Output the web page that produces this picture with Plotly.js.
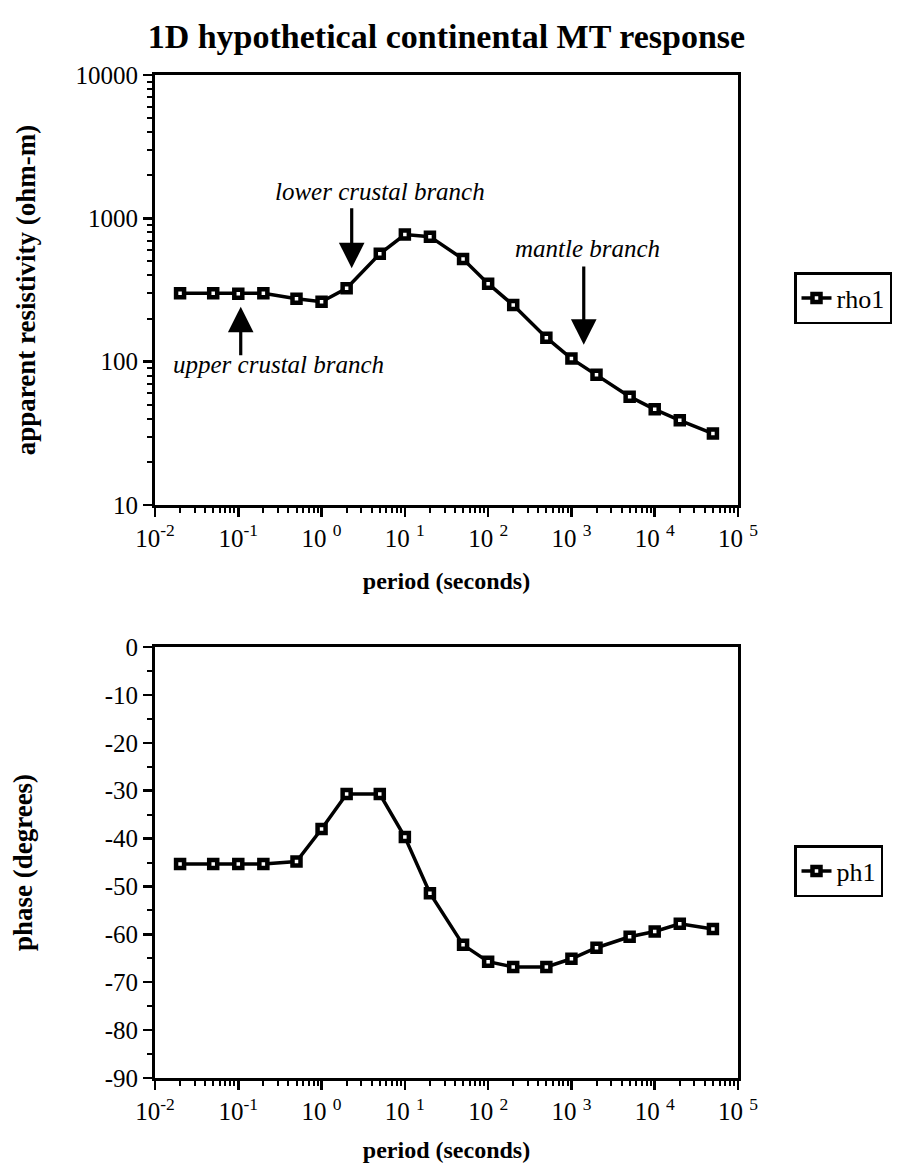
<!DOCTYPE html>
<html>
<head>
<meta charset="utf-8">
<script src="https://cdn.plot.ly/plotly-3.0.1.min.js"></script>
<style>html,body{margin:0;padding:0;background:#fff;}#chart{width:912px;height:1167px;}</style>
</head>
<body>
<div id="chart"></div>
<script>
// ---- data ----
const period = [0.02, 0.05, 0.1, 0.2, 0.5, 1, 2, 5, 10, 20, 50, 100, 200, 500, 1000, 2000, 5000, 10000, 20000, 50000];
const rho1 = [300, 300, 298, 300, 275, 262, 325, 565, 770, 745, 520, 350, 248, 147, 105, 81, 57, 46.5, 39, 31.5];
const ph1 = [-45.3, -45.3, -45.3, -45.3, -44.8, -38, -30.7, -30.7, -39.7, -51.4, -62.2, -65.7, -66.8, -66.8, -65.1, -62.8, -60.5, -59.4, -57.8, -58.9];

const xTickVals = [0.01, 0.1, 1, 10, 100, 1000, 10000, 100000];
const xTickText = ['10<sup>-2</sup>', '10<sup>-1</sup>', '10 <sup>0</sup>', '10 <sup>1</sup>', '10 <sup>2</sup>', '10 <sup>3</sup>', '10 <sup>4</sup>', '10 <sup>5</sup>'];
const rhoTickVals = [10, 100, 1000, 10000];
const rhoTickText = ['10', '100', '1000', '10000'];
const phTickVals = [0, -10, -20, -30, -40, -50, -60, -70, -80, -90];
const phTickText = ['0', '-10', '-20', '-30', '-40', '-50', '-60', '-70', '-80', '-90'];

// annotation labels (period, rho) and arrows (period, tail rho, tip rho)
const noteText = ['lower crustal branch', 'mantle branch', 'upper crustal branch'];
const notePeriod = [5, 1545, 0.305];
const noteRho = [1550, 618, 95];
const arrowPeriod = [2.3, 1406, 0.107];
const arrowTailRho = [1206, 472, 108];
const arrowTipRho = [448, 131, 242];

// ---- helpers ----
function minorLog(lo, hi) {
  const v = [];
  for (let e = lo; e < hi; e++) for (let m = 2; m <= 9; m++) v.push(m * Math.pow(10, e));
  return v;
}
const L = Math.log10;
const serif = 'Liberation Serif, Times New Roman, serif';

const markerStyle = {symbol: 'square', size: 8, color: 'white', line: {color: 'black', width: 4.5}};
const lineStyle = {color: 'black', width: 3.5};

const traces = [
  {x: period, y: rho1, name: 'rho1', mode: 'lines+markers', xaxis: 'x', yaxis: 'y', legend: 'legend',
   line: lineStyle, marker: markerStyle},
  {x: period, y: ph1, name: 'ph1', mode: 'lines+markers', xaxis: 'x2', yaxis: 'y2', legend: 'legend2',
   line: lineStyle, marker: markerStyle}
];

const tickFont = {family: serif, size: 25, color: 'black'};
const xTitleFont = {family: serif, size: 24, color: 'black', weight: 'bold'};
const yTitleFont = {family: serif, size: 27, color: 'black', weight: 'bold'};

function xAxis(anchor, standoff) {
  return {
    type: 'log', range: [-2, 5], anchor: anchor,
    tickmode: 'array', tickvals: xTickVals, ticktext: xTickText,
    ticks: 'outside', ticklen: 9, tickwidth: 2.5, tickcolor: 'black',
    minor: {tickmode: 'array', tickvals: minorLog(-2, 5), ticks: 'outside', ticklen: 5, tickwidth: 2, tickcolor: 'black'},
    showline: true, linecolor: 'black', linewidth: 3, mirror: true,
    showgrid: false, zeroline: false, tickfont: tickFont,
    title: {text: '<b>period (seconds)</b>', font: xTitleFont, standoff: standoff}
  };
}

const annotations = [];
for (let i = 0; i < noteText.length; i++) {
  annotations.push({
    xref: 'x', yref: 'y', x: L(notePeriod[i]), y: L(noteRho[i]),
    text: '<i>' + noteText[i] + '</i>', showarrow: false,
    font: {family: serif, size: 25, color: 'black'}
  });
  annotations.push({
    xref: 'x', yref: 'y', axref: 'x', ayref: 'y',
    x: L(arrowPeriod[i]), y: L(arrowTipRho[i]),
    ax: L(arrowPeriod[i]), ay: L(arrowTailRho[i]),
    text: '', showarrow: true, arrowhead: 2, arrowsize: 1.6, arrowwidth: 3.2, arrowcolor: 'black', standoff: 0
  });
}

const legendCommon = {xanchor: 'left', yanchor: 'top', bordercolor: 'black', borderwidth: 2.5, bgcolor: 'white',
                      font: {family: serif, size: 26, color: 'black'}};

const layout = {
  width: 912, height: 1167,
  margin: {l: 155, r: 174, t: 75, b: 89},
  paper_bgcolor: 'white', plot_bgcolor: 'white',
  showlegend: true,
  title: {text: '<b>1D hypothetical continental MT response</b>', font: {family: serif, size: 34, color: 'black'},
          x: 0.4895, xanchor: 'center', y: 1 - 36 / 1167, yanchor: 'middle'},
  xaxis: Object.assign(xAxis('y', 22), {domain: [0, 1]}),
  xaxis2: Object.assign(xAxis('y2', 18), {domain: [0, 1]}),
  yaxis: {
    type: 'log', range: [1, 4], domain: [0.5713, 1], anchor: 'x',
    tickmode: 'array', tickvals: rhoTickVals, ticktext: rhoTickText,
    ticks: 'outside', ticklen: 9, tickwidth: 2.5, tickcolor: 'black',
    minor: {tickmode: 'array', tickvals: minorLog(1, 4), ticks: 'outside', ticklen: 5, tickwidth: 2, tickcolor: 'black'},
    showline: true, linecolor: 'black', linewidth: 3, mirror: true,
    showgrid: false, zeroline: false, tickfont: tickFont,
    title: {text: '<b>apparent resistivity (ohm-m)</b>', font: yTitleFont, standoff: 33}
  },
  yaxis2: {
    range: [-90, 0], domain: [0, 0.4297], anchor: 'x2',
    tickmode: 'array', tickvals: phTickVals, ticktext: phTickText,
    ticks: 'outside', ticklen: 9, tickwidth: 2.5, tickcolor: 'black',
    minor: {dtick: 5, ticks: 'outside', ticklen: 5, tickwidth: 2, tickcolor: 'black'},
    showline: true, linecolor: 'black', linewidth: 3, mirror: true,
    showgrid: false, zeroline: false, tickfont: tickFont,
    title: {text: '<b>phase (degrees)</b>', font: yTitleFont, standoff: 65}
  },
  legend: Object.assign({x: (794 - 155) / 583, y: (1078 - 272) / 1003}, legendCommon),
  legend2: Object.assign({x: (794 - 155) / 583, y: (1078 - 845) / 1003}, legendCommon),
  annotations: annotations
};

Plotly.newPlot('chart', traces, layout, {displayModeBar: false, staticPlot: true});
</script>
</body>
</html>
